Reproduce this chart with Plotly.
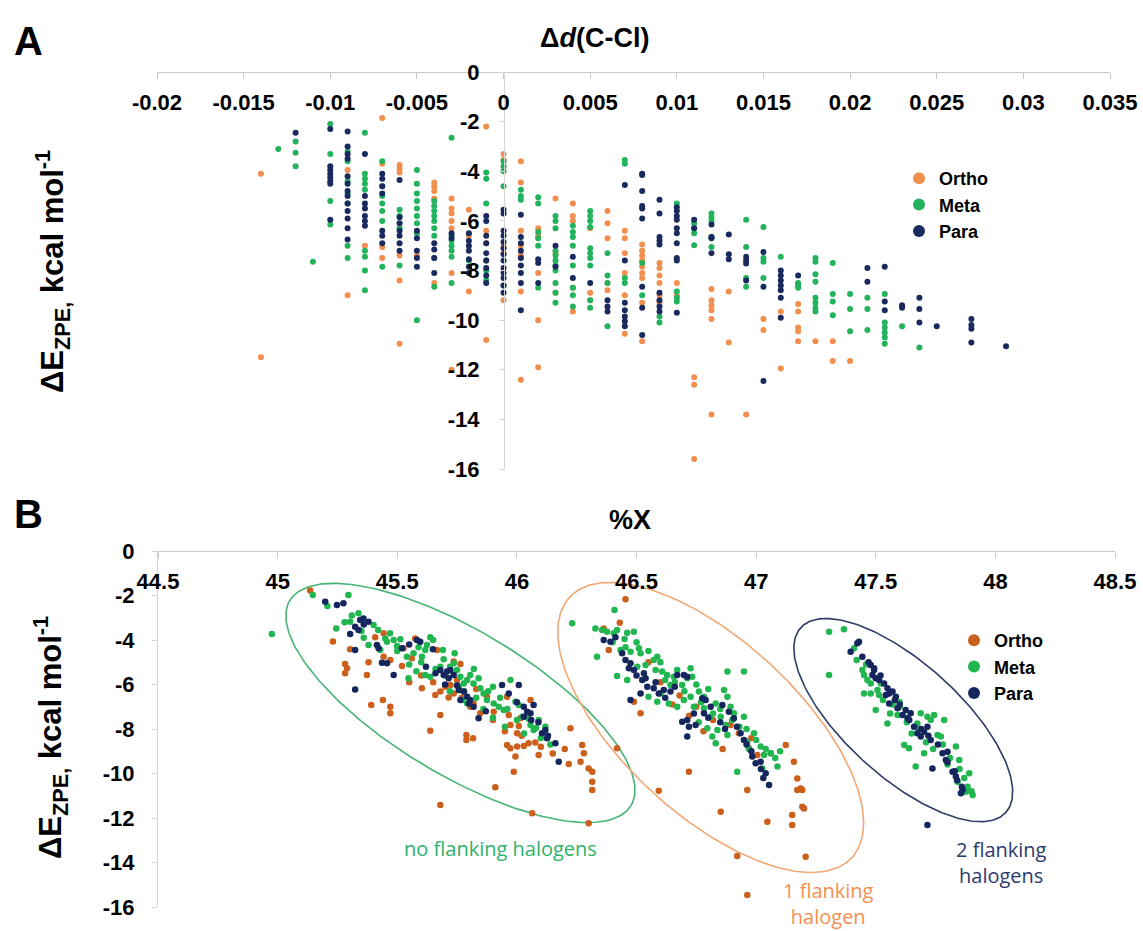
import numpy as np
import plotly.graph_objects as go

# ---------------- DATA ----------------
# Panel A: columns of Δd(C-Cl) with ΔE_ZPE values (kcal/mol)
ortho_a_cols = [
    (-0.014, [-4.1, -11.5]),
    (-0.009, [-3.95, -9.0]),
    (-0.008, [-7.0]),
    (-0.007, [-1.85, -3.7, -7.05, -7.5]),
    (-0.006, [-3.75, -3.9, -4.05, -7.4, -8.4, -10.95]),
    (-0.005, [-7.4]),
    (-0.004, [-4.45, -4.6, -4.8, -5.1, -8.5]),
    (-0.003, [-5.1, -5.5, -5.7, -6.0, -6.3, -8.1, -12.0]),
    (-0.002, [-5.55, -6.6, -8.85]),
    (-0.001, [-2.2, -6.4, -6.9, -7.6, -10.8]),
    (0.000, [-3.3, -3.55, -7.0, -7.3, -9.2]),
    (0.001, [-3.6, -4.45, -6.4, -7.0, -7.4, -8.85, -12.4]),
    (0.002, [-6.3, -6.6, -8.1, -10.0, -11.9]),
    (0.003, [-5.1, -7.3, -8.9]),
    (0.004, [-5.3, -5.8, -6.0, -8.7, -9.65]),
    (0.005, [-6.3, -8.9, -9.2]),
    (0.006, [-5.6, -6.1, -6.7, -8.5, -8.8]),
    (0.007, [-6.4, -6.7, -7.3, -8.1, -9.0, -10.55]),
    (0.008, [-6.95, -7.2, -7.4, -7.6, -7.85, -8.1, -8.3, -9.3, -10.85]),
    (0.009, [-7.7, -7.9, -8.2, -8.5, -9.0, -9.3]),
    (0.010, [-8.5, -9.0]),
    (0.011, [-12.3, -12.6, -15.6]),
    (0.012, [-8.75, -9.2, -9.4, -9.6, -9.95, -13.8]),
    (0.013, [-8.85, -10.9]),
    (0.014, [-13.8]),
    (0.015, [-9.95, -10.4]),
    (0.016, [-9.65, -11.95]),
    (0.017, [-9.35, -9.65, -10.3, -10.45, -10.85]),
    (0.018, [-10.85]),
    (0.019, [-10.85, -11.65]),
    (0.020, [-11.65]),
]
meta_a_cols = [
    (-0.013, [-3.1]),
    (-0.012, [-2.8, -3.25, -3.8]),
    (-0.011, [-7.65]),
    (-0.010, [-2.1, -3.3, -5.2, -6.15]),
    (-0.009, [-3.2, -3.6, -4.4, -4.9, -5.3, -7.0, -7.5]),
    (-0.008, [-2.45, -4.1, -4.3, -4.5, -4.75, -7.2, -7.45, -8.0, -8.8]),
    (-0.007, [-3.6, -4.6, -5.0, -5.3, -5.6, -6.0, -7.85]),
    (-0.006, [-5.55, -5.8, -6.3, -7.8]),
    (-0.005, [-3.95, -4.5, -4.9, -5.2, -5.5, -5.8, -6.1, -6.5, -10.0]),
    (-0.004, [-5.2, -5.4, -5.6, -5.8, -6.0, -6.3, -6.6, -7.5, -8.65]),
    (-0.003, [-2.65, -6.6, -6.8, -7.0, -7.2, -7.45, -8.5]),
    (-0.002, [-7.6]),
    (-0.001, [-4.05, -4.3, -5.3, -7.6, -8.0, -8.4]),
    (0.000, [-3.6, -3.8, -4.0, -4.6, -8.6]),
    (0.001, [-4.75, -5.0, -5.15]),
    (0.002, [-5.05, -5.3, -6.45, -6.7, -7.0, -8.7]),
    (0.003, [-5.8, -6.0, -6.3, -7.2, -7.4, -7.6, -7.8, -8.0, -8.5, -8.9, -9.3]),
    (0.004, [-6.2, -6.45, -6.65, -7.0, -7.8, -8.7, -9.0, -9.45]),
    (0.005, [-5.6, -5.8, -6.0, -6.25, -7.1, -7.3, -7.5, -7.8, -9.2, -9.5]),
    (0.006, [-7.3, -8.2, -8.5, -10.25]),
    (0.007, [-3.55, -3.7, -8.3, -8.5]),
    (0.008, [-7.7, -9.0]),
    (0.009, [-9.85, -10.1]),
    (0.010, [-5.3, -8.85, -9.1, -9.25]),
    (0.011, [-6.1, -6.3, -6.5, -6.98]),
    (0.012, [-5.7, -5.85, -6.0, -6.65, -7.05]),
    (0.014, [-5.95, -7.05, -8.3, -8.65]),
    (0.015, [-6.25, -7.5, -7.65, -8.3]),
    (0.016, [-7.45]),
    (0.017, [-8.5, -8.6, -8.7]),
    (0.018, [-7.5, -7.65, -8.15, -8.45, -9.1, -9.3, -9.5, -9.65]),
    (0.019, [-7.7, -8.95, -9.25, -9.8]),
    (0.020, [-8.95, -9.55, -10.45]),
    (0.021, [-9.1, -9.55, -10.4]),
    (0.022, [-8.95, -10.1, -10.3, -10.5, -10.7, -10.95]),
    (0.023, [-10.25]),
    (0.024, [-11.1]),
]
para_a_cols = [
    (-0.012, [-2.45]),
    (-0.010, [-2.3, -3.8, -3.95, -4.1, -4.25, -4.4, -4.5, -5.95]),
    (-0.009, [-2.4, -3.0, -3.3, -3.5, -4.2, -4.5, -4.8, -5.0, -5.3, -5.6, -5.9, -6.3, -6.75]),
    (-0.008, [-3.3, -5.0, -5.3, -5.5, -5.8, -6.0, -6.2]),
    (-0.007, [-4.1, -4.3, -4.6, -4.9, -6.4, -6.6, -6.9]),
    (-0.006, [-4.35, -5.85, -6.1, -6.4, -6.6, -6.9, -7.2]),
    (-0.005, [-6.4, -6.7, -7.2, -7.5, -7.85]),
    (-0.004, [-6.9, -7.15, -7.5, -8.1]),
    (-0.003, [-6.5, -6.7]),
    (-0.002, [-6.5, -6.8, -7.0, -7.2, -7.55, -7.85, -8.1]),
    (-0.001, [-5.8, -6.0, -6.6, -6.9, -7.3, -7.6, -7.9, -8.2, -8.5]),
    (0.000, [-5.55, -5.7, -6.4, -6.6, -6.85, -7.1, -7.35, -7.6, -7.9, -8.1, -8.3, -8.6, -8.9]),
    (0.001, [-5.75, -6.65, -6.9, -7.2, -7.5, -7.8, -8.1, -8.5, -9.6]),
    (0.002, [-7.55, -7.7, -8.5]),
    (0.003, [-7.0, -7.85]),
    (0.004, [-7.45, -8.3]),
    (0.005, [-8.5]),
    (0.006, [-9.2, -9.45, -9.65]),
    (0.007, [-4.55, -7.6, -9.3, -9.6, -9.85, -10.05, -10.25]),
    (0.008, [-4.1, -4.15, -4.8, -5.4, -5.5, -5.9, -8.65, -9.5, -10.6]),
    (0.009, [-5.15, -5.7, -6.65, -6.8, -6.95, -8.9, -9.2, -9.45, -9.65]),
    (0.010, [-5.45, -5.6, -5.8, -5.95, -6.3, -6.5, -6.9, -7.5, -7.6, -9.7]),
    (0.011, [-5.95, -6.3]),
    (0.012, [-6.15, -6.65, -6.7, -7.3]),
    (0.013, [-6.55, -7.35, -7.55]),
    (0.014, [-7.45, -7.6, -7.72, -8.4]),
    (0.015, [-7.25, -8.65, -12.45]),
    (0.016, [-8.0, -8.2, -8.4, -8.6, -8.8, -9.1, -9.9]),
    (0.017, [-8.2]),
    (0.021, [-7.9, -8.45]),
    (0.022, [-7.85, -9.25, -9.6]),
    (0.023, [-9.4, -9.5]),
    (0.024, [-9.1, -9.55, -10.1]),
    (0.025, [-10.25]),
    (0.027, [-9.95, -10.2, -10.35, -10.9]),
    (0.029, [-11.05]),
]

# Panel B: (%X, ΔE_ZPE) points
ortho_b = [
    (45.136, -1.78), (45.231, -4.07), (45.303, -4.42), (45.282, -5.08), (45.29, -5.27), (45.282, -5.50),
    (45.373, -5.57), (45.391, -6.92), (45.443, -3.70), (45.408, -3.88), (45.443, -4.75), (45.471, -4.90),
    (45.471, -7.0), (45.471, -7.29), (45.526, -4.37), (45.561, -4.82), (45.52, -5.17), (45.575, -3.93),
    (45.666, -4.45), (45.603, -6.17), (45.659, -6.47), (45.68, -6.32), (45.701, -6.10), (45.722, -6.02),
    (45.736, -6.40), (45.715, -6.58), (45.75, -5.80), (45.764, -5.08), (45.736, -4.97), (45.805, -7.0),
    (45.819, -6.85), (45.875, -6.55), (45.847, -7.29), (45.903, -7.22), (45.68, -7.37), (45.638, -8.08),
    (45.789, -8.27), (45.817, -8.42), (45.789, -8.49), (45.959, -6.55), (45.966, -7.37), (45.973, -7.82),
    (46.001, -8.19), (46.008, -7.87), (45.959, -8.72), (45.973, -8.87), (46.001, -8.79), (46.029, -8.76),
    (46.049, -8.64), (46.057, -6.70), (46.077, -8.61), (45.994, -9.24), (45.987, -9.92), (46.015, -7.52),
    (46.043, -7.45), (46.091, -9.17), (46.224, -7.97), (46.217, -9.57), (46.266, -9.47), (46.273, -8.72),
    (46.28, -9.09), (46.3, -9.77), (46.315, -9.92), (46.315, -10.37), (46.315, -10.74), (45.91, -10.62),
    (45.68, -11.42), (46.064, -11.79), (46.3, -12.24), (46.419, -8.87),
    (45.6, -5.6), (45.65, -5.9), (45.77, -6.6), (45.83, -6.2), (45.9, -7.6), (46.1, -8.8), (46.02, -8.3),
    (45.95, -8.1), (45.55, -5.9), (45.44, -6.7), (45.38, -5.0), (46.15, -9.1), (46.2, -8.9),
    (46.454, -2.17), (46.43, -3.22), (46.384, -4.45), (46.363, -3.48), (46.517, -7.29), (46.489, -6.77),
    (46.893, -7.82), (46.928, -8.19), (46.97, -8.87), (47.005, -9.17), (47.061, -9.09), (47.124, -8.72),
    (47.158, -9.47), (47.172, -10.22), (47.186, -10.67), (47.193, -10.74), (47.172, -10.74), (47.193, -11.49),
    (47.2, -11.57), (47.151, -11.87), (47.151, -12.31), (47.047, -12.17), (46.963, -10.74), (46.852, -11.72),
    (46.719, -9.92), (46.593, -10.77), (46.921, -13.71), (47.207, -13.74), (46.963, -15.46),
    (46.6, -5.9), (46.68, -6.5), (46.75, -7.0), (46.82, -7.6), (46.55, -5.0), (46.86, -8.9), (46.98, -8.4),
    (46.78, -8.1), (46.65, -6.9), (46.72, -7.4),
]
meta_b = [
    (44.976, -3.73), (45.147, -1.98), (45.208, -2.47), (45.296, -1.98), (45.245, -3.48), (45.303, -3.18),
    (45.338, -2.80), (45.401, -3.33), (45.38, -4.22), (45.429, -4.45), (45.45, -3.93), (45.457, -4.08),
    (45.485, -4.0), (45.513, -3.97), (45.499, -4.27), (45.54, -4.75), (45.568, -4.6), (45.589, -4.33),
    (45.603, -4.75), (45.617, -4.45), (45.638, -3.88), (45.624, -4.22), (45.691, -4.45), (45.694, -4.87),
    (45.68, -5.20), (45.547, -5.72), (45.617, -5.57), (45.638, -5.65), (45.736, -5.05), (45.75, -5.35),
    (45.764, -5.65), (45.778, -5.95), (45.757, -6.10), (45.792, -5.80), (45.805, -5.57), (45.819, -5.95),
    (45.84, -5.72), (45.847, -6.17), (45.861, -6.40), (45.875, -6.70), (45.903, -6.85), (45.792, -6.85),
    (45.771, -6.70), (45.924, -7.0), (45.945, -7.15), (45.973, -5.80), (45.994, -6.77), (46.008, -6.92),
    (46.022, -7.45), (46.057, -7.82), (46.07, -8.04), (46.091, -7.60), (46.119, -7.90),
    (45.42, -3.55), (45.5, -4.5), (45.66, -5.3), (45.72, -6.3), (45.9, -7.5), (45.95, -7.9), (46.03, -8.2),
    (46.1, -8.4), (46.14, -8.7), (45.35, -3.6), (45.86, -7.1), (46.0, -7.6),
    (45.55, -5.1), (45.6, -5.0), (45.58, -5.4), (45.7, -5.6), (45.72, -5.2), (45.78, -6.3), (45.83, -6.6),
    (45.88, -6.3), (45.9, -6.1), (45.93, -6.6), (45.96, -7.1), (46.05, -7.55), (46.08, -7.95), (45.47, -3.7),
    (45.28, -3.2), (45.31, -2.9), (45.36, -3.9), (45.65, -4.0), (45.74, -4.6), (45.82, -5.3),
    (46.408, -2.65), (46.231, -3.25), (46.328, -3.48), (46.356, -3.55), (46.377, -3.63), (46.405, -3.70),
    (46.419, -3.55), (46.461, -3.67), (46.489, -3.63), (46.335, -4.75), (46.433, -4.45), (46.454, -4.33),
    (46.475, -4.53), (46.51, -4.37), (46.517, -4.60), (46.419, -5.62), (46.461, -5.80), (46.503, -5.20),
    (46.538, -5.12), (46.572, -4.90), (46.587, -4.75), (46.58, -5.35), (46.607, -5.42), (46.628, -5.57),
    (46.67, -5.35), (46.726, -5.27), (46.733, -5.65), (46.656, -5.65), (46.642, -6.02), (46.691, -6.02),
    (46.712, -5.72), (46.587, -6.77), (46.635, -6.85), (46.67, -7.0), (46.698, -6.70), (46.726, -6.55),
    (46.761, -6.32), (46.782, -6.55), (46.74, -7.0), (46.782, -7.07), (46.81, -7.45), (46.831, -6.85),
    (46.866, -6.25), (46.88, -6.55), (46.893, -7.0), (46.907, -7.29), (46.949, -7.45), (46.852, -7.45),
    (46.873, -7.82), (46.838, -8.04), (46.796, -7.97), (46.817, -8.34), (46.831, -8.64), (46.88, -8.27),
    (46.963, -8.57), (46.991, -8.19), (47.019, -8.79), (47.033, -9.17), (47.061, -9.09), (47.089, -9.69),
    (46.921, -9.92), (47.026, -9.77), (46.949, -5.42), (46.88, -5.42),
    (46.45, -3.95), (46.5, -4.1), (46.55, -4.5), (46.6, -5.0), (46.66, -5.9), (46.7, -6.3), (46.75, -6.0),
    (46.77, -6.8), (46.8, -6.2), (46.85, -7.1), (46.9, -7.6), (46.93, -7.9), (46.96, -8.0), (47.0, -8.5),
    (47.04, -8.9), (47.08, -9.3), (46.6, -6.4), (46.55, -6.55), (46.82, -7.3), (46.76, -7.7), (46.97, -8.9),
    (47.1, -9.0), (46.62, -5.8), (46.4, -4.1),
    (47.305, -3.63), (47.367, -3.52), (47.305, -5.57), (47.409, -4.37), (47.444, -5.35), (47.451, -5.57),
    (47.465, -5.80), (47.479, -5.95), (47.451, -6.40), (47.479, -6.40), (47.507, -6.25), (47.514, -6.47),
    (47.521, -5.95), (47.591, -7.37), (47.549, -7.75), (47.619, -8.72), (47.639, -8.87), (47.667, -9.69),
    (47.702, -9.09), (47.716, -7.45), (47.73, -7.60), (47.744, -7.37), (47.758, -8.27), (47.786, -7.60),
    (47.772, -8.34), (47.835, -8.79), (47.849, -9.39), (47.842, -10.37), (47.891, -9.99), (47.884, -10.59),
    (47.905, -10.97), (47.877, -10.82), (47.688, -7.29), (47.674, -7.75), (47.5, -7.15), (47.57, -6.9),
    (47.6, -7.0), (47.65, -8.2), (47.8, -9.6),
    (47.42, -4.9), (47.46, -5.1), (47.53, -6.7), (47.6, -6.8), (47.63, -7.7), (47.68, -8.0), (47.71, -8.6),
    (47.74, -8.9), (47.78, -8.7), (47.81, -9.3), (47.85, -9.8), (47.87, -10.2), (47.9, -10.8), (47.56, -7.3),
]
para_b = [
    (45.199, -2.28), (45.248, -2.43), (45.275, -2.35), (45.324, -3.40), (45.345, -3.10), (45.359, -3.03),
    (45.338, -3.55), (45.38, -3.18), (45.303, -3.73), (45.324, -4.45), (45.324, -6.22), (45.415, -4.22),
    (45.422, -4.37), (45.436, -5.02), (45.457, -5.05), (45.485, -5.57), (45.52, -4.37), (45.582, -4.0),
    (45.596, -4.08), (45.649, -4.42), (45.68, -5.35), (45.694, -5.57), (45.708, -5.42), (45.722, -5.35),
    (45.715, -5.72), (45.736, -5.57), (45.757, -6.25), (45.778, -6.32), (45.792, -6.55), (45.805, -6.70),
    (45.819, -7.0), (45.84, -7.52), (45.764, -6.70), (45.938, -6.02), (45.966, -6.40), (46.008, -6.02),
    (46.029, -7.0), (46.043, -7.22), (46.057, -7.29), (46.07, -6.92), (46.029, -7.45), (46.105, -8.19),
    (46.119, -8.04), (46.126, -8.42), (46.161, -8.64), (46.175, -9.47),
    (45.62, -5.2), (45.66, -5.5), (45.7, -6.0), (45.75, -6.05), (45.8, -6.85), (45.87, -7.2), (46.0, -6.8),
    (46.06, -7.6), (46.09, -7.7), (46.13, -8.3), (45.36, -3.3), (45.55, -4.2),
    (46.363, -4.0), (46.391, -4.08), (46.412, -3.88), (46.454, -4.90), (46.475, -5.05), (46.468, -5.27),
    (46.489, -5.35), (46.531, -5.50), (46.524, -5.80), (46.538, -5.72), (46.545, -6.10), (46.572, -6.17),
    (46.593, -6.40), (46.614, -6.25), (46.642, -6.32), (46.67, -5.57), (46.698, -5.57), (46.712, -5.65),
    (46.517, -6.40), (46.475, -6.70), (46.691, -7.67), (46.712, -7.60), (46.719, -7.90), (46.747, -7.82),
    (46.775, -6.62), (46.789, -6.70), (46.81, -7.0), (46.859, -6.92), (46.886, -7.22), (46.907, -7.52),
    (46.935, -8.19), (46.949, -8.49), (46.984, -9.24), (46.998, -9.54), (47.019, -9.47), (47.04, -9.99),
    (47.054, -10.52), (46.712, -8.34), (46.782, -7.29),
    (46.58, -5.9), (46.62, -6.6), (46.66, -6.1), (46.74, -7.3), (46.8, -7.5), (46.85, -7.7), (46.87, -8.0),
    (46.92, -7.9), (46.96, -8.7), (46.98, -9.0), (47.02, -9.8), (47.03, -10.2), (46.5, -5.6), (46.44, -4.6),
    (47.395, -4.53), (47.423, -4.15), (47.43, -4.08), (47.444, -4.75), (47.479, -5.12), (47.493, -5.35),
    (47.486, -5.57), (47.5, -5.72), (47.514, -5.80), (47.493, -5.27), (47.535, -5.95), (47.549, -6.17),
    (47.556, -6.40), (47.57, -6.32), (47.584, -6.55), (47.542, -6.47), (47.556, -6.85), (47.591, -7.07),
    (47.612, -7.37), (47.633, -7.52), (47.646, -7.29), (47.625, -7.15), (47.66, -7.90), (47.674, -8.19),
    (47.688, -8.34), (47.702, -8.12), (47.716, -7.90), (47.73, -8.49), (47.779, -9.09), (47.793, -9.39),
    (47.8, -9.02), (47.821, -9.92), (47.835, -10.14), (47.856, -10.89), (47.863, -10.74), (47.737, -9.77),
    (47.716, -12.31),
    (47.47, -5.0), (47.52, -5.6), (47.6, -6.9), (47.64, -7.6), (47.69, -8.0), (47.72, -8.3), (47.76, -8.7),
    (47.8, -9.5), (47.83, -9.9), (47.84, -10.3), (47.86, -10.6), (47.58, -6.7),
]

series_names = ["Ortho", "Meta", "Para"]

# tick labels
xa_tickvals = [-0.02, -0.015, -0.01, -0.005, 0, 0.005, 0.01, 0.015, 0.02, 0.025, 0.03, 0.035]
xa_ticktext = ["-0.02", "-0.015", "-0.01", "-0.005", "0", "0.005", "0.01", "0.015", "0.02", "0.025", "0.03", "0.035"]
xb_tickvals = [44.5, 45, 45.5, 46, 46.5, 47, 47.5, 48, 48.5]
xb_ticktext = ["44.5", "45", "45.5", "46", "46.5", "47", "47.5", "48", "48.5"]
y_tickvals = [0, -2, -4, -6, -8, -10, -12, -14, -16]
y_ticktext = ["0", "-2", "-4", "-6", "-8", "-10", "-12", "-14", "-16"]

# group ellipses (panel B): center (x, y), semi-axes in px, tilt in degrees
ellipses = [
    dict(cx=45.764, cy=-6.83, a=199, b=72, ang=31, color="#45B474"),
    dict(cx=46.810, cy=-7.93, a=192, b=87, ang=42.7, color="#F2A774"),
    dict(cx=47.615, cy=-7.60, a=138, b=57, ang=42, color="#2E3B66"),
]

# ---------------- STYLE ----------------
W, H = 1143, 931
FONT = "Liberation Sans, Arial, sans-serif"
colors_a = ["#F28E4E", "#22B35C", "#1B2A5E"]
colors_b = ["#CB5F1C", "#22B651", "#15265E"]

def flat(cols):
    xs, ys = [], []
    for x, vals in cols:
        for v in vals:
            xs.append(x)
            ys.append(v)
    return xs, ys

fig = go.Figure()

for name, cols, c in zip(series_names, [ortho_a_cols, meta_a_cols, para_a_cols], colors_a):
    xs, ys = flat(cols)
    fig.add_trace(go.Scatter(x=xs, y=ys, mode="markers", name=name,
                             marker=dict(size=6, color=c), xaxis="x", yaxis="y",
                             legend="legend"))

# ellipses
xb_dom = [158 / W, 1115 / W]
yb_dom = [1 - 907 / H, 1 - 551 / H]
kx = (xb_dom[1] - xb_dom[0]) * W / (48.5 - 44.5)
ky = (yb_dom[1] - yb_dom[0]) * H / 16.0
t = np.linspace(0, 2 * np.pi, 241)
for e in ellipses:
    th = np.deg2rad(e["ang"])
    dx = e["a"] * np.cos(t) * np.cos(th) - e["b"] * np.sin(t) * np.sin(th)
    dy = e["a"] * np.cos(t) * np.sin(th) + e["b"] * np.sin(t) * np.cos(th)
    fig.add_trace(go.Scatter(x=e["cx"] + dx / kx, y=e["cy"] - dy / ky, mode="lines",
                             line=dict(color=e["color"], width=1.6), showlegend=False,
                             hoverinfo="skip", xaxis="x2", yaxis="y2"))

for name, pts, c in zip(series_names, [ortho_b, meta_b, para_b], colors_b):
    fig.add_trace(go.Scatter(x=[p[0] for p in pts], y=[p[1] for p in pts], mode="markers",
                             name=name, marker=dict(size=6.5, color=c), xaxis="x2", yaxis="y2",
                             legend="legend2"))

tickfont = dict(family=FONT, size=22, color="black", weight="bold")
common_x = dict(side="bottom", anchor="free", showline=True, linecolor="#C8C8C8", linewidth=1,
                ticks="outside", ticklen=6, tickcolor="#C8C8C8", tickfont=tickfont,
                showgrid=False, zeroline=False, ticklabelstandoff=5)
common_y = dict(range=[-16, 0], showline=True, linecolor="#D6D6D6", linewidth=1, ticks="outside",
                ticklen=5, tickcolor="#D6D6D6", tickfont=tickfont, tickvals=y_tickvals,
                ticktext=y_ticktext, showgrid=False, zeroline=False)

ya_dom = [1 - 469 / H, 1 - 72 / H]
fig.update_layout(
    width=W, height=H, margin=dict(l=0, r=0, t=0, b=0),
    paper_bgcolor="white", plot_bgcolor="white", template="none",
    xaxis=dict(domain=[157 / W, 1110 / W], range=[-0.02, 0.035], position=ya_dom[1],
               tickvals=xa_tickvals, ticktext=xa_ticktext, **common_x),
    yaxis=dict(domain=ya_dom, anchor="free", position=504 / W, ticklabelstandoff=15, **common_y),
    xaxis2=dict(domain=xb_dom, range=[44.5, 48.5], position=yb_dom[1],
                tickvals=xb_tickvals, ticktext=xb_ticktext, **common_x),
    yaxis2=dict(domain=yb_dom, anchor="x2", ticklabelstandoff=13, **common_y),
    legend=dict(x=899 / W, y=1 - 160 / H, xanchor="left", yanchor="top",
                font=dict(family=FONT, size=18, color="black", weight="bold"),
                itemsizing="constant", bgcolor="rgba(0,0,0,0)", tracegroupgap=0),
    legend2=dict(x=954 / W, y=1 - 622 / H, xanchor="left", yanchor="top",
                 font=dict(family=FONT, size=18, color="black", weight="bold"),
                 itemsizing="constant", bgcolor="rgba(0,0,0,0)", tracegroupgap=0),
    showlegend=True,
)

ann = []
def A(text, x, y, size, color="black", angle=0, family=FONT, xanchor="center"):
    ann.append(dict(text=text, x=x / W, y=1 - y / H, xref="paper", yref="paper",
                    showarrow=False, textangle=angle, xanchor=xanchor, yanchor="middle",
                    font=dict(family=family, size=size, color=color)))

A("<b>A</b>", 28, 41, 40)
A("<b>B</b>", 28, 514, 40)
A("<b>Δ<i>d</i>(C-Cl)</b>", 594, 38, 27)
A("<b>%X</b>", 630, 520, 27)
A("<b>ΔE<sub>ZPE,</sub> kcal mol<sup>-1</sup></b>", 52, 272, 31, angle=-90)
A("<b>ΔE<sub>ZPE,</sub> kcal mol<sup>-1</sup></b>", 50, 738, 31, angle=-90)
A("no flanking halogens", 500, 848, 20, color="#2DB36A", family="Open Sans")
A("1 flanking<br>halogen", 828, 903, 20, color="#F2904F", family="Open Sans")
A("2 flanking<br>halogens", 1001, 862, 20, color="#2B3A6E", family="Open Sans")
fig.update_layout(annotations=ann)

fig.write_html("out.html")
